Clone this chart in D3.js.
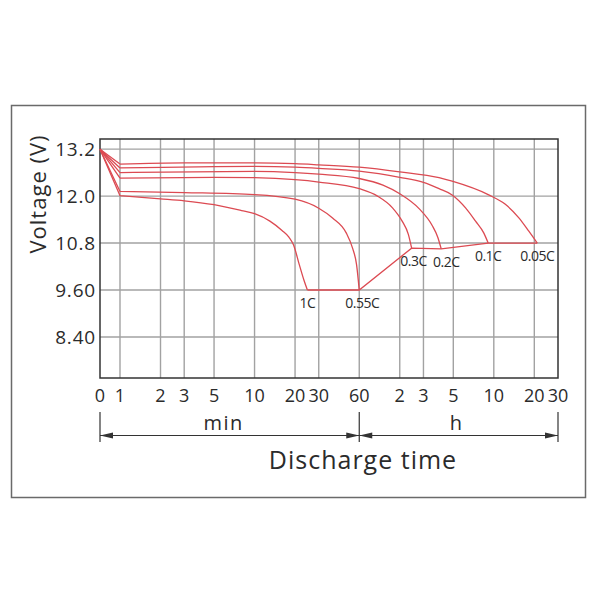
<!DOCTYPE html>
<html>
<head>
<meta charset="utf-8">
<script src="https://cdn.jsdelivr.net/npm/d3@7"></script>
<style>
  body { margin: 0; background: #fff; }
  text { font-family: "Open Sans", "Noto Sans", sans-serif; fill: #2b2b2b; }
</style>
</head>
<body>
<div id="chart"></div>
<script>
// discharge curves, time in minutes, voltage in V
const rates = ['1C', '0.55C', '0.3C', '0.2C', '0.1C', '0.05C']

const t1C = [0, 1, 2, 3, 5, 8, 10, 13, 16, 18, 19.5, 21.5, 23.3, 24.7]
const v1C = [13.2, 12.01, 11.93, 11.88, 11.78, 11.63, 11.55, 11.36, 11.12, 10.95, 10.75, 10.25, 9.85, 9.60]

const t055C = [0, 1, 3, 10, 20, 30, 38, 48, 53.5, 57.3, 60]
const v055C = [13.2, 12.12, 12.09, 12.04, 11.92, 11.69, 11.44, 11.06, 10.67, 10.25, 9.60]

const t03C = [0, 1, 5, 10, 20, 30, 60, 82, 106, 125, 139, 147]
const v03C = [13.2, 12.46, 12.48, 12.47, 12.42, 12.36, 12.19, 12.0, 11.70, 11.36, 11.02, 10.67]

const t02C = [0, 1, 10, 20, 30, 60, 90, 120, 167, 209, 230, 244]
const v02C = [13.2, 12.60, 12.63, 12.60, 12.56, 12.45, 12.28, 12.06, 11.68, 11.25, 10.95, 10.65]

const t01C = [0, 1, 10, 20, 30, 60, 120, 180, 235, 294, 370, 439, 505, 545]
const v01C = [13.2, 12.72, 12.76, 12.74, 12.71, 12.64, 12.48, 12.35, 12.19, 12.03, 11.70, 11.36, 11.06, 10.80]

const t005C = [0, 1, 3, 10, 20, 30, 60, 120, 235, 294, 550, 731, 918, 1089, 1262]
const v005C = [13.2, 12.82, 12.85, 12.85, 12.83, 12.80, 12.74, 12.62, 12.47, 12.38, 12.03, 11.79, 11.45, 11.11, 10.80]

const seriesTimes = [t1C, t055C, t03C, t02C, t01C, t005C]
const seriesVolts = [v1C, v055C, v03C, v02C, v01C, v005C]

// axis ticks
const yTicks = [13.2, 12.0, 10.8, 9.6, 8.4]
const yTickLabels = ['13.2', '12.0', '10.8', '9.60', '8.40']
const xTicks = [0, 1, 2, 3, 5, 10, 20, 30, 60, 120, 180, 300, 600, 1200, 1800]
const xTickLabels = ['0', '1', '2', '3', '5', '10', '20', '30', '60', '2', '3', '5', '10', '20', '30']
const unitLabels = ['min', 'h']

const width = 600
const height = 600
const plot = { left: 100, right: 558, top: 139, bottom: 378 }
const red = '#dc4a52'

const svg = d3.select('#chart')
              .append('svg')
              .attr('width', width)
              .attr('height', height)

// outer frame
svg.append('rect')
   .attr('x', 11.5)
   .attr('y', 105.5)
   .attr('width', 574)
   .attr('height', 392)
   .attr('fill', 'none')
   .attr('stroke', '#6a6a6a')
   .attr('stroke-width', 1.5)

// 0..1 min is linear, then log up to 30 h
const xStart = d3.scaleLinear()
                 .domain([0, 1])
                 .range([plot.left, plot.left + 20])
const xLog = d3.scaleLog()
               .domain([1, 1800])
               .range([plot.left + 20, plot.right])
const x = t => t < 1 ? xStart(t) : xLog(t)

const y = d3.scaleLinear()
            .domain([7.35, 13.46])
            .range([plot.bottom, plot.top])

// grid
svg.append('g')
   .selectAll('line')
   .data(xTicks.slice(1, -1))
   .enter()
   .append('line')
   .attr('x1', d => x(d))
   .attr('x2', d => x(d))
   .attr('y1', plot.top)
   .attr('y2', plot.bottom)
   .attr('stroke', '#a2a2a2')
   .attr('stroke-width', 1.4)

svg.append('g')
   .selectAll('line')
   .data(yTicks)
   .enter()
   .append('line')
   .attr('x1', plot.left)
   .attr('x2', plot.right)
   .attr('y1', d => y(d))
   .attr('y2', d => y(d))
   .attr('stroke', '#a2a2a2')
   .attr('stroke-width', 1.4)

svg.append('rect')
   .attr('x', plot.left)
   .attr('y', plot.top)
   .attr('width', plot.right - plot.left)
   .attr('height', plot.bottom - plot.top)
   .attr('fill', 'none')
   .attr('stroke', '#333')
   .attr('stroke-width', 1.5)

// curves: straight drop over the first minute, smooth afterwards
const straight = d3.line()
                   .x(d => x(d[0]))
                   .y(d => y(d[1]))
const smooth = d3.line()
                 .x(d => x(d[0]))
                 .y(d => y(d[1]))
                 .curve(d3.curveMonotoneX)

const curves = rates.map((r, i) => seriesTimes[i].map((t, j) => [t, seriesVolts[i][j]]))

svg.append('g')
   .selectAll('path')
   .data(curves)
   .enter()
   .append('path')
   .attr('fill', 'none')
   .attr('stroke', red)
   .attr('stroke-width', 1.3)
   .attr('d', d => straight(d.slice(0, 2)) + smooth(d.slice(1)))

// end-of-discharge line through the curve ends
const ends = curves.map(c => c[c.length - 1])
svg.append('path')
   .datum(ends)
   .attr('fill', 'none')
   .attr('stroke', red)
   .attr('stroke-width', 1.3)
   .attr('d', straight)

const labelShift = [0, 3, 2, 5, 0, 0]
svg.append('g')
   .selectAll('text')
   .data(ends)
   .enter()
   .append('text')
   .attr('x', (d, i) => x(d[0]) + labelShift[i])
   .attr('y', d => y(d[1]) + 18)
   .attr('text-anchor', 'middle')
   .attr('font-size', 14)
   .attr('letter-spacing', -0.5)
   .text((d, i) => rates[i])

// axis labels
svg.append('g')
   .selectAll('text')
   .data(yTicks)
   .enter()
   .append('text')
   .attr('x', plot.left - 4)
   .attr('y', d => y(d) + 7)
   .attr('text-anchor', 'end')
   .attr('font-size', 19)
   .attr('letter-spacing', 0.8)
   .text((d, i) => yTickLabels[i])

svg.append('g')
   .selectAll('text')
   .data(xTicks)
   .enter()
   .append('text')
   .attr('x', d => x(d))
   .attr('y', plot.bottom + 24)
   .attr('text-anchor', 'middle')
   .attr('font-size', 18)
   .text((d, i) => xTickLabels[i])

svg.append('text')
   .attr('transform', `translate(46, 194) rotate(-90)`)
   .attr('text-anchor', 'middle')
   .attr('font-size', 22)
   .attr('letter-spacing', 1)
   .text('Voltage (V)')

// min / h dimension lines
const dimY = 435.5
const bounds = [x(0), x(60), x(1800)]
const dim = svg.append('g').attr('stroke', '#333').attr('fill', '#333')

dim.append('line')
   .attr('x1', bounds[0])
   .attr('x2', bounds[2])
   .attr('y1', dimY)
   .attr('y2', dimY)
   .attr('stroke-width', 1.2)

dim.selectAll('.tick')
   .data(bounds)
   .enter()
   .append('line')
   .attr('x1', d => d)
   .attr('x2', d => d)
   .attr('y1', 412)
   .attr('y2', 442)
   .attr('stroke-width', 1.2)

const arrows = [[bounds[0], 1], [bounds[1], -1], [bounds[1], 1], [bounds[2], -1]]
dim.selectAll('path')
   .data(arrows)
   .enter()
   .append('path')
   .attr('stroke', 'none')
   .attr('d', d => `M${d[0]},${dimY} l${13 * d[1]},-3 l0,6 Z`)

svg.selectAll('.unit')
   .data(unitLabels)
   .enter()
   .append('text')
   .attr('x', (d, i) => (bounds[i] + bounds[i + 1]) / 2 - 6 * (1 - i) - 2 * i)
   .attr('y', 430)
   .attr('text-anchor', 'middle')
   .attr('font-size', 20)
   .attr('letter-spacing', 1.5)
   .text(d => d)

svg.append('text')
   .attr('x', 363)
   .attr('y', 469)
   .attr('text-anchor', 'middle')
   .attr('font-size', 25)
   .attr('letter-spacing', 1)
   .text('Discharge time')
</script>
</body>
</html>
